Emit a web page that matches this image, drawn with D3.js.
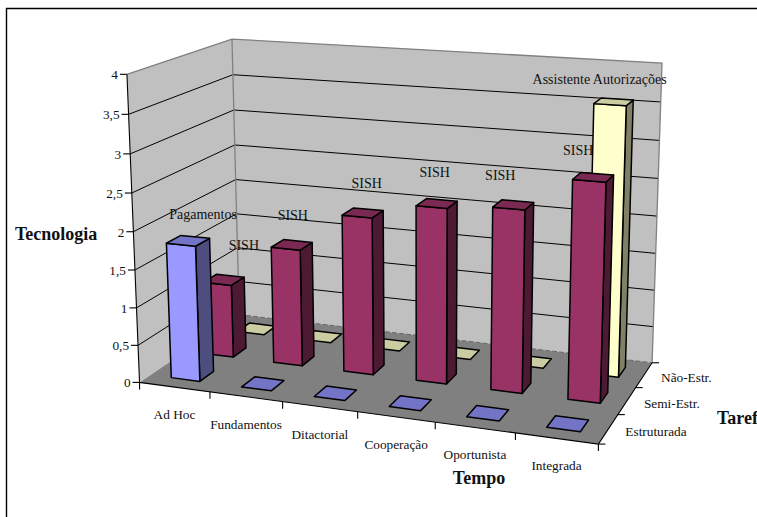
<!DOCTYPE html>
<html><head><meta charset="utf-8">
<script src="https://cdn.jsdelivr.net/npm/d3@7"></script>
<style>html,body{margin:0;padding:0;background:#fff}svg{display:block}text{font-family:"Liberation Serif",serif;fill:#111}</style>
</head><body><svg id="c" width="757" height="517"></svg>
<script>
const categories=["Ad Hoc","Fundamentos","Ditactorial","Cooperação","Oportunista","Integrada"];
const depthLabels=["Estruturada","Semi-Estr.","Não-Estr."];
const yTicks=[0,0.5,1,1.5,2,2.5,3,3.5,4];
const yTickLabels=["0","0,5","1","1,5","2","2,5","3","3,5","4"];
const estruturada=[1.8,0,0,0,0,0];
const semiEstr=[1,1.58,2.1,2.31,2.38,2.81];
const naoEstr=[0,0,0,0,0,3.56];
const estruturadaLabels=["Pagamentos","","","","",""];
const semiLabels=["SISH","SISH","SISH","SISH","SISH","SISH"];
const naoLabels=["","","","","","Assistente Autorizações"];
const estruturadaNudge=[[15,-22]];
const semiNudge=[[20,-30],[1,-25],[4,-25],[-2,-27],[-13,-25],[-15,-22]];
const naoNudge=[,,,,,[-14,-18]];
const palette=[
 {front:"#9999ff",top:"#7474c6",side:"#4d4d80"},
 {front:"#993366",top:"#7a2952",side:"#4d1a33"},
 {front:"#ffffcc",top:"#ccccA3",side:"#808066"}];

// Camera calibration: cube corners/edges (u,v,w) against the picture
const calib=[
[0,0,0,140,382],[1/6,0,0,209.5,391.5],[2/6,0,0,283,401.5],[3/6,0,0,357,412],[4/6,0,0,435,422.5],[5/6,0,0,514,433],[1,0,0,597,444],
[1,0,1/3,620,414],[1,0,2/3,639,388],[1,0,1,652,362],
[1,1,1,663,63],[1,.875,1,661,103],[1,.75,1,659,141],[1,.625,1,658,178],[1,.5,1,656,216],[1,.375,1,655,253],[1,.25,1,654,290],[1,.125,1,652.5,327],
[0,0,1,238,315],[0,1,1,232,39],[0,.875,1,233,74],[0,.75,1,234,110],[0,.625,1,235,145],[0,.5,1,236,180],
[0,1,0,127,74],[0,.875,0,128,114],[0,.75,0,130,154],[0,.625,0,132,193],[0,.5,0,133,232],[0,.375,0,135,270],[0,.25,0,137,308],[0,.125,0,139,346]];
function solveCamera(pts){
  const n=11,A=d3.range(n).map(()=>new Array(n+1).fill(0));
  const add=(r,b)=>{for(let i=0;i<n;i++){for(let j=0;j<n;j++)A[i][j]+=r[i]*r[j];A[i][n]+=r[i]*b;}};
  pts.forEach(([u,v,w,x,y])=>{
    add([u,v,w,1,0,0,0,0,-x*u,-x*v,-x*w],x);
    add([0,0,0,0,u,v,w,1,-y*u,-y*v,-y*w],y);
  });
  for(let c=0;c<n;c++){
    let p=c;for(let r=c+1;r<n;r++)if(Math.abs(A[r][c])>Math.abs(A[p][c]))p=r;
    [A[c],A[p]]=[A[p],A[c]];
    for(let r=0;r<n;r++){if(r===c)continue;const f=A[r][c]/A[c][c];for(let k=c;k<=n;k++)A[r][k]-=f*A[c][k];}
  }
  return A.map((r,i)=>r[n]/r[i]);
}
const P=solveCamera(calib);
const X=d3.scaleLinear().domain([0,categories.length]).range([0,1]);
const Y=d3.scaleLinear().domain([0,4]).range([0,1]);
const Z=d3.scaleLinear().domain([0,depthLabels.length]).range([0,1]);
function proj(c,val,d){
  const u=X(c),v=Y(val),w=Z(d),h=P[8]*u+P[9]*v+P[10]*w+1;
  return [(P[0]*u+P[1]*v+P[2]*w+P[3])/h,(P[4]*u+P[5]*v+P[6]*w+P[7])/h];
}
const line=d3.line();
const poly=pts=>line(pts)+"Z";
const svg=d3.select("#c");
const nC=categories.length,nD=depthLabels.length,yMax=4;

// frame
svg.append("path").attr("d","M6.5,517V8.5H757").attr("fill","none").attr("stroke","#000").attr("stroke-width",1.4);

// walls and floor
svg.append("path").attr("d",poly([proj(0,0,0),proj(0,yMax,0),proj(0,yMax,nD),proj(0,0,nD)])).attr("fill","#c0c0c0");
svg.append("path").attr("d",poly([proj(0,0,nD),proj(0,yMax,nD),proj(nC,yMax,nD),proj(nC,0,nD)])).attr("fill","#c0c0c0");
svg.append("path").attr("d",poly([proj(0,0,0),proj(nC,0,0),proj(nC,0,nD),proj(0,0,nD)])).attr("fill","#808080");

// gridlines
svg.append("g").selectAll("path").data(yTicks.slice(1,-1)).join("path")
  .attr("d",t=>line([proj(0,t,0),proj(0,t,nD),proj(nC,t,nD)]))
  .attr("fill","none").attr("stroke","#000").attr("stroke-width",1);
// wall outlines
svg.append("path").attr("d",line([proj(0,yMax,0),proj(0,yMax,nD),proj(nC,yMax,nD),proj(nC,0,nD)]))
  .attr("fill","none").attr("stroke","#808080").attr("stroke-width",1.3);
svg.append("path").attr("d",line([proj(0,0,nD),proj(0,yMax,nD)])).attr("fill","none").attr("stroke","#808080").attr("stroke-width",1.3);
svg.append("path").attr("d",line([proj(0,0,nD),proj(nC,0,nD)])).attr("fill","none").attr("stroke","#666").attr("stroke-width",1).attr("stroke-dasharray","5 2");

// axes
const ax=svg.append("g").attr("fill","none").attr("stroke","#000").attr("stroke-width",1.1);
ax.append("path").attr("d",line([proj(0,yMax,0),proj(0,0,0),proj(nC,0,0),proj(nC,0,nD)]));
yTicks.forEach(t=>{const p=proj(0,t,0);ax.append("path").attr("d",line([[p[0]-7,p[1]],p]));});
d3.range(nC+1).forEach(i=>{const p=proj(i,0,0);ax.append("path").attr("d",line([p,[p[0],p[1]+7]]));});
d3.range(nD+1).forEach(i=>{const p=proj(nC,0,i);ax.append("path").attr("d",line([p,[p[0]+7,p[1]]]));});

// bars, back row first
const series=[{v:estruturada,l:estruturadaLabels,n:estruturadaNudge},{v:semiEstr,l:semiLabels,n:semiNudge},{v:naoEstr,l:naoLabels,n:naoNudge}];
const hu=0.205,hw=0.2,ctr=0.505;
const barData=[];
series.forEach((s,r)=>s.v.forEach((val,i)=>barData.push({r,i,val})));
barData.sort((a,b)=>b.r-a.r||a.i-b.i);
const bars=svg.append("g").attr("stroke","#000").attr("stroke-width",1.5).attr("stroke-linejoin","round");
barData.forEach(b=>{
  const u0=b.i+ctr-hu,u1=b.i+ctr+hu,w0=b.r+.5-hw,w1=b.r+.5+hw,c=palette[b.r];
  const g=bars.append("g");
  if(b.val>0){
    g.append("path").attr("d",poly([proj(u1,0,w0),proj(u1,0,w1),proj(u1,b.val,w1),proj(u1,b.val,w0)])).attr("fill",c.side);
    g.append("path").attr("d",poly([proj(u0,0,w0),proj(u1,0,w0),proj(u1,b.val,w0),proj(u0,b.val,w0)])).attr("fill",c.front);
  }
  g.append("path").attr("d",poly([proj(u0,b.val,w0),proj(u1,b.val,w0),proj(u1,b.val,w1),proj(u0,b.val,w1)])).attr("fill",c.top);
});

// tick labels
const txt=(x,y,s,size,anchor,bold)=>svg.append("text").attr("x",x).attr("y",y).attr("font-size",size).attr("text-anchor",anchor||"start").attr("font-weight",bold?"bold":"normal").text(s);
yTicks.forEach((t,i)=>{const p=proj(0,t,0);txt(p[0]-9,p[1]+5,yTickLabels[i],13.3,"end");});
categories.forEach((s,i)=>{const p=proj(i+.5,0,0);txt(p[0],p[1]+32,s,13.3,"middle");});
depthLabels.forEach((s,i)=>{const p=proj(nC,0,i+.5);txt(p[0]+17,p[1]+7,s,13.3);});

// data labels
series.forEach((s,r)=>s.l.forEach((t,i)=>{
  if(!t)return;
  const p=proj(i+ctr,s.v[i],r+.5),n=s.n[i];
  txt(p[0]+n[0],p[1]+n[1],t,14,"middle");
}));

// axis titles
txt(15,240,"Tecnologia",18,"start",true);
txt(479,484,"Tempo",18,"middle",true);
txt(717,424,"Tarefa",18,"start",true);
</script></body></html>
